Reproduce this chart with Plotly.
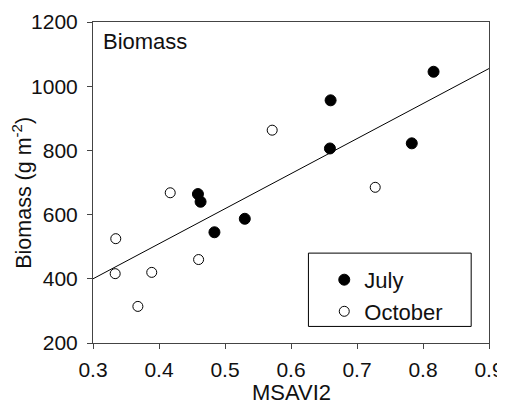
import plotly.graph_objects as go

# Data
july_x = [0.459, 0.463, 0.484, 0.530, 0.660, 0.659, 0.783, 0.816]
july_y = [664, 640, 545, 587, 956, 806, 822, 1045]
october_x = [0.3345, 0.3336, 0.389, 0.368, 0.460, 0.417, 0.5715, 0.7276]
october_y = [525, 416, 420, 314, 460, 668, 863, 685]
fit_x = [0.3, 0.9]
fit_y = [400, 1055]
x_ticks = [0.3, 0.4, 0.5, 0.6, 0.7, 0.8, 0.9]
y_ticks = [200, 400, 600, 800, 1000, 1200]

FONT = "Liberation Sans, Arial, sans-serif"
FS = 22
TXT = "#111"

fig = go.Figure()
fig.add_trace(go.Scatter(x=fit_x, y=fit_y, mode="lines",
                         line=dict(color="black", width=1), showlegend=False,
                         hoverinfo="skip"))
fig.add_trace(go.Scatter(x=july_x, y=july_y, mode="markers", name="July",
                         marker=dict(symbol="circle", size=11, color="black",
                                     line=dict(color="black", width=1))))
fig.add_trace(go.Scatter(x=october_x, y=october_y, mode="markers", name="October",
                         marker=dict(symbol="circle", size=10, color="white",
                                     line=dict(color="black", width=1))))

axis_common = dict(showgrid=False, zeroline=False, showline=True, linecolor="#444",
                   linewidth=1, mirror=True, ticks="outside", ticklen=5,
                   tickcolor="#444", tickwidth=1, automargin=False,
                   tickfont=dict(family=FONT, size=21, color=TXT))

fig.update_xaxes(range=[0.3, 0.9], tickvals=x_ticks, ticklabelstandoff=3,
                 ticktext=[f"{v:.1f}" for v in x_ticks], **axis_common)
fig.update_yaxes(range=[200, 1200], tickvals=y_ticks, ticklabelstandoff=5,
                 **axis_common)

# Axis titles and inset label
fig.add_annotation(text="MSAVI2", xref="paper", yref="paper", x=0.5, y=-0.155,
                   xanchor="center", yanchor="middle", showarrow=False,
                   font=dict(family=FONT, size=FS, color=TXT))
fig.add_annotation(text="Biomass (g m<sup>-2</sup>)", xref="paper", yref="paper",
                   x=-0.18, y=0.467, textangle=-90,
                   xanchor="center", yanchor="middle", showarrow=False,
                   font=dict(family=FONT, size=21.5, color=TXT))
fig.add_annotation(text="Biomass", xref="paper", yref="paper", x=0.02, y=0.94,
                   xanchor="left", yanchor="middle", showarrow=False,
                   font=dict(family=FONT, size=FS, color=TXT))

# Legend frame
fig.add_shape(type="rect", xref="paper", yref="paper",
              x0=0.544, x1=0.955, y0=0.0516, y1=0.280,
              line=dict(color="black", width=1), fillcolor="white", layer="below")

fig.update_layout(
    width=497, height=395,
    margin=dict(l=84.5, r=16, t=14, b=60, autoexpand=False),
    paper_bgcolor="white", plot_bgcolor="white",
    legend=dict(x=0.584, y=0.262, xanchor="left", yanchor="top",
                borderwidth=0, bgcolor="rgba(0,0,0,0)",
                font=dict(family=FONT, size=FS, color=TXT),
                itemwidth=30, tracegroupgap=0),
)

fig.write_html("out.html")
